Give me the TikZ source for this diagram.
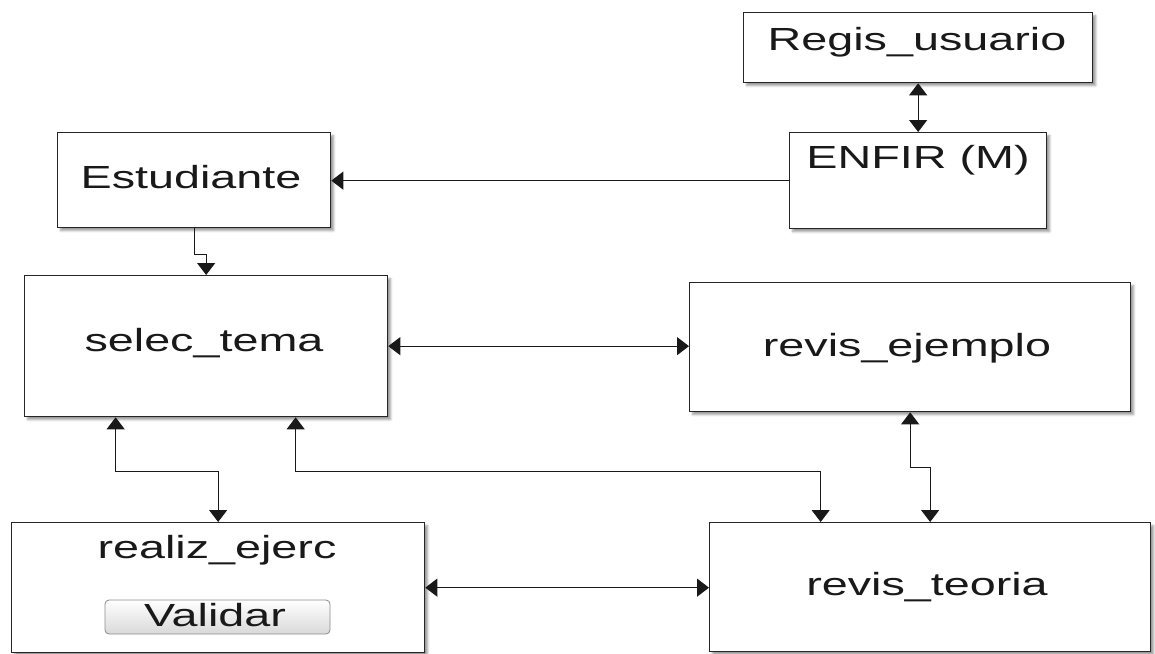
\documentclass[tikz,border=0pt]{standalone}
\usepackage{graphicx}
\usepackage{fontspec}
\setmainfont{Liberation Sans}
\usetikzlibrary{arrows.meta,shadows.blur}

% wide lettering used for all labels
\newcommand{\widelbl}[1]{\scalebox{1.46}[1]{#1}}

\begin{document}
\begin{tikzpicture}[x=1pt,y=-1pt,
  box/.style={draw=black!85, line width=1.3pt, fill=white, rectangle,
    inner sep=0pt, anchor=north west,
    blur shadow={shadow xshift=3pt, shadow yshift=-3pt, shadow blur steps=6, shadow opacity=40}},
  lbl/.style={anchor=base, inner sep=0pt, font=\fontsize{32}{37}\selectfont, text=black!90},
  link/.style={line width=1.2pt, draw=black!90},
  >={Triangle[length=12pt,width=18pt]}]
\useasboundingbox (0,0) rectangle (1155,653);

% boxes
\node[box, minimum width=349pt, minimum height=70pt]  (reg) at (743,12)  {};
\node[box, minimum width=257pt, minimum height=96pt]  (enf) at (789,132) {};
\node[box, minimum width=273pt, minimum height=95pt]  (est) at (57,132)  {};
\node[box, minimum width=363pt, minimum height=141pt] (sel) at (24,275)  {};
\node[box, minimum width=441pt, minimum height=129pt] (ejm) at (689,282) {};
\node[box, minimum width=413pt, minimum height=130pt] (rea) at (11,522)  {};
\node[box, minimum width=441pt, minimum height=129pt] (teo) at (709,522) {};

% Validar button
\node[draw=black!45, line width=0.8pt, rounded corners=4pt, top color=white, bottom color=black!15,
  minimum width=225pt, minimum height=34pt, inner sep=0pt] (btn) at (217.5,617) {};

% labels
\node[lbl] (treg) at (917,50)  {\widelbl{Regis\_usuario}};
\node[lbl] (tenf) at (918,168) {\widelbl{ENFIR (M)}};
\node[lbl] (test) at (191,188) {\widelbl{Estudiante}};
\node[lbl] (tsel) at (204,351) {\widelbl{selec\_tema}};
\node[lbl] (tejm) at (907,356) {\widelbl{revis\_ejemplo}};
\node[lbl] (trea) at (217,558) {\widelbl{realiz\_ejerc}};
\node[lbl] (tbtn) at (215,626) {\widelbl{Validar}};
\node[lbl] (tteo) at (927,595) {\widelbl{revis\_teoria}};

% connectors
\draw[link,<->] (reg.south) -- (reg.south |- enf.north);
\draw[link,->] (enf.west) -- (est.east |- enf.west);
\draw[link,->] (est.south) -- ++(0,26) -| (sel.north);
\draw[link,<->] (sel.east) -- (sel.east -| ejm.west);
\draw[link,<->] ([xshift=-90.5pt]sel.south) -- ++(0,54) -| (rea.north);
\draw[link,<->] ([xshift=89.5pt]sel.south) -- ++(0,54) -| ([xshift=-109.5pt]teo.north);
\draw[link,<->] (ejm.south) -- ++(0,55) -| (teo.north);
\draw[link,<->] (rea.east) -- (rea.east -| teo.west);
\end{tikzpicture}
\end{document}
